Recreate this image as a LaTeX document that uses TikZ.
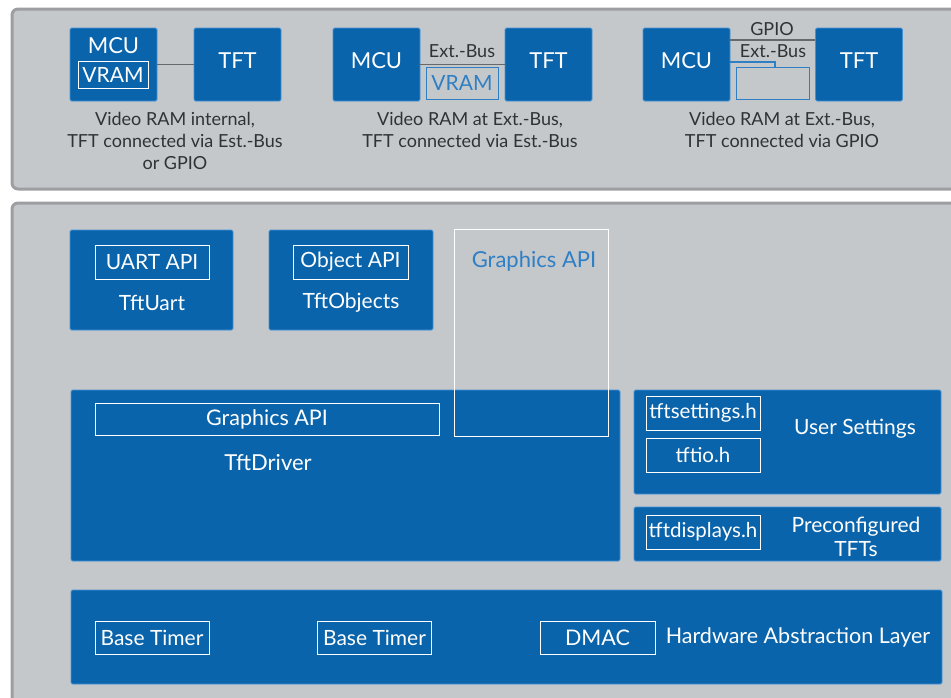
\documentclass[tikz,border=0pt]{standalone}
\usepackage{fontspec}
\setmainfont{Lato}
\usetikzlibrary{positioning}
\definecolor{panelgray}{HTML}{C5C8CB}
\definecolor{panelrim}{HTML}{9C9EA1}
\definecolor{tftblue}{HTML}{0A64AB}
\definecolor{tftrim}{HTML}{4593D6}
\definecolor{ramblue}{HTML}{2F7FC4}
\definecolor{captext}{HTML}{303234}
\definecolor{wiregray}{HTML}{66696C}

\begin{document}
\begin{tikzpicture}[
	x=1pt,
	y=-1pt,
	panel/.style={fill=panelgray, draw=panelrim, line width=3pt, rounded corners=6pt},
	block/.style={fill=tftblue, draw=tftrim, line width=0.9pt, rounded corners=1.5pt,
		inner sep=0pt, text=white, text depth=7pt, font=\fontsize{22}{24}\selectfont},
	tag/.style={draw=white, line width=0.9pt, inner sep=0pt, text=white,
		font=\fontsize{20.5}{22}\selectfont},
	ramtag/.style={draw=ramblue, line width=0.9pt, inner sep=0pt, text=ramblue,
		font=\fontsize{21}{22}\selectfont},
	label/.style={inner sep=0pt, text=white, align=center, font=\fontsize{21}{24}\selectfont},
	caption/.style={inner sep=0pt, text=captext, align=center, font=\fontsize{18}{22}\selectfont},
	wire/.style={draw=wiregray, line width=1.6pt}
	]
	\useasboundingbox (0,0) rectangle (951,697);

	% --- top: three ways to wire the TFT ---
	\draw[panel] (12,9) rectangle (975,189);

	% internal VRAM
	\node[block, minimum width=87pt, minimum height=73pt] (mcuA) at (113.5,64.5) {};
	\node[label, font=\fontsize{22}{24}\selectfont] (mcuAtxt) at (113.5,46) {MCU};
	\node[tag, minimum width=70pt, minimum height=27pt, font=\fontsize{21}{24}\selectfont] (vramA) at (113,75) {VRAM};
	\node[block, minimum width=87pt, minimum height=73pt] (tftA) at (237.5,64.5) {TFT};
	\draw[wire] (mcuA) -- (tftA);
	\node[caption] (capA) at (175,141) {Video RAM internal,\\TFT connected via Est.-Bus\\or GPIO};

	% VRAM at Ext.-Bus, TFT at Ext.-Bus
	\node[block, minimum width=87pt, minimum height=73pt] (mcuB) at (376.5,64.5) {MCU};
	\node[block, minimum width=87pt, minimum height=73pt] (tftB) at (548.5,64.5) {TFT};
	\draw[wire] (mcuB) -- (tftB);
	\node[caption] (busB) at (462,51) {Ext.-Bus};
	\node[ramtag, minimum width=72pt, minimum height=32pt] (vramB) at (462,83) {VRAM};
	\node[caption] (capB) at (470,130) {Video RAM at Ext.-Bus,\\TFT connected via Est.-Bus};

	% VRAM at Ext.-Bus, TFT at GPIO
	\node[block, minimum width=87pt, minimum height=73pt] (mcuC) at (686.5,64.5) {MCU};
	\node[block, minimum width=87pt, minimum height=73pt] (tftC) at (859,64.5) {TFT};
	\node[caption] (gpioC) at (772,29) {GPIO};
	\node[caption] (busC) at (773,51) {Ext.-Bus};
	\node[ramtag, minimum width=73pt, minimum height=32pt] (ramC) at (772.5,83) {};
	\coordinate (gpioY) at (772,40);
	\coordinate (busBend) at (775,62);
	\draw[wire, line width=1.2pt] (mcuC.east |- gpioY) -- (tftC.west |- gpioY);
	\draw[draw=ramblue, line width=1.2pt] (mcuC.east |- busBend) -- (busBend) -- (ramC.north -| busBend);
	\node[caption] (capC) at (782,130) {Video RAM at Ext.-Bus,\\TFT connected via GPIO};

	% --- bottom: software layers ---
	\draw[panel] (12,203) rectangle (975,720);

	\node[block, minimum width=163pt, minimum height=100pt] (uart) at (151.5,280) {};
	\node[tag, minimum width=114pt, minimum height=34pt, font=\fontsize{21}{22}\selectfont] (uartApi) at (152,262) {UART API};
	\node[label] (uartTxt) at (152,303) {TftUart};

	\node[block, minimum width=164pt, minimum height=100pt] (objects) at (351,280) {};
	\node[tag, minimum width=115pt, minimum height=34pt, font=\fontsize{21}{22}\selectfont] (objApi) at (350.5,262) {Object API};
	\node[label] (objTxt) at (351,303) {TftObjects};

	\node[block, minimum width=549pt, minimum height=171pt] (driver) at (345.5,475.5) {};
	\node[tag, minimum width=344pt, minimum height=32pt, font=\fontsize{21.5}{22}\selectfont] (drvApi) at (267,419) {Graphics API};
	\node[label, font=\fontsize{22}{24}\selectfont] (drvTxt) at (268,463) {TftDriver};

	\node[draw=white, line width=0.9pt, minimum width=154pt, minimum height=207pt, inner sep=0pt] (gfx) at (531,332.5) {};
	\node[label, text=ramblue, font=\fontsize{22}{24}\selectfont] (gfxTxt) at (534,261) {Graphics API};

	\node[block, minimum width=307pt, minimum height=104pt] (user) at (787.5,442) {};
	\node[tag, minimum width=114pt, minimum height=34pt] (settingsH) at (703,413) {tftsettings.h};
	\node[tag, minimum width=114pt, minimum height=34pt] (ioH) at (703,455) {tftio.h};
	\node[label] (userTxt) at (855,429) {User Settings};

	\node[block, minimum width=307pt, minimum height=54pt] (precfg) at (787.5,534) {};
	\node[tag, minimum width=114pt, minimum height=34pt] (displaysH) at (703,532) {tftdisplays.h};
	\node[label, font=\fontsize{21}{24}\selectfont] (precfgTxt) at (856,537) {Preconfigured\\TFTs};

	\node[block, minimum width=871pt, minimum height=94pt] (hal) at (506.5,637) {};
	\node[tag, minimum width=114pt, minimum height=33pt, font=\fontsize{21}{22}\selectfont] (timerA) at (152,637.5) {Base Timer};
	\node[tag, minimum width=114pt, minimum height=33pt, font=\fontsize{21}{22}\selectfont] (timerB) at (374.5,637.5) {Base Timer};
	\node[tag, minimum width=115pt, minimum height=33pt, font=\fontsize{21.5}{22}\selectfont] (dmac) at (597.5,637.5) {DMAC};
	\node[label, font=\fontsize{21.5}{24}\selectfont] (halTxt) at (798,637) {Hardware Abstraction Layer};
\end{tikzpicture}
\end{document}
